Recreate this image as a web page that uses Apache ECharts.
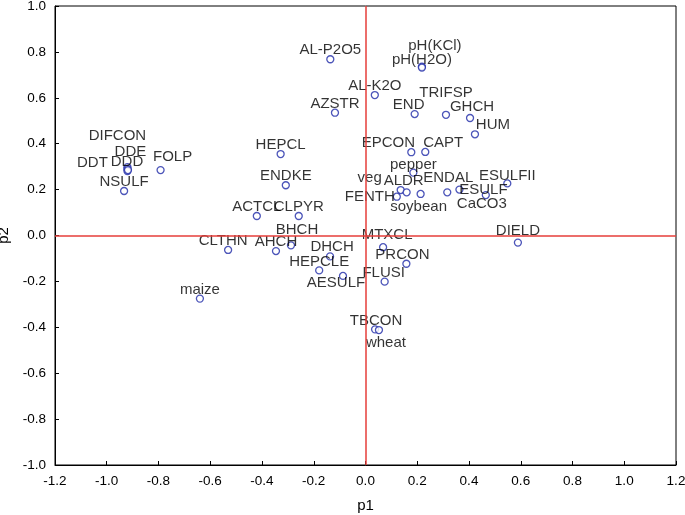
<!DOCTYPE html>
<html>
<head>
<meta charset="utf-8">
<script src="https://cdn.jsdelivr.net/npm/echarts@6/dist/echarts.min.js"></script>
<style>html,body{margin:0;padding:0;background:#fff;}#c{width:685px;height:515px;}</style>
</head>
<body>
<div id="c"></div>
<script>
// Variable names
var names = ['DIFCON','DDE','DDT','DDD','NSULF','FOLP','HEPCL','ENDKE','ACTCL','CLPYR','BHCH','AHCH','CLTHN','DHCH','HEPCLE','AESULF','maize','MTXCL','PRCON','FLUSI','TBCON','wheat','DIELD','AL-P2O5','pH(KCl)','pH(H2O)','AL-K2O','AZSTR','END','TRIFSP','GHCH','HUM','EPCON','CAPT','pepper','veg','ALDR','FENTH','soybean','ENDAL','ESULF','ESULFII','CaCO3'];
// p1 coordinates
var p1 = [-0.920,-0.920,-0.920,-0.918,-0.933,-0.792,-0.328,-0.308,-0.420,-0.258,-0.288,-0.346,-0.531,-0.137,-0.179,-0.087,-0.640,0.068,0.158,0.074,0.037,0.052,0.589,-0.136,0.218,0.218,0.036,-0.118,0.190,0.311,0.404,0.423,0.177,0.231,0.185,0.136,0.159,0.121,0.213,0.316,0.363,0.548,0.465];
// p2 coordinates
var p2 = [0.298,0.290,0.281,0.285,0.194,0.285,0.355,0.219,0.085,0.085,-0.043,-0.068,-0.063,-0.091,-0.152,-0.176,-0.275,-0.051,-0.123,-0.201,-0.409,-0.412,-0.031,0.768,0.736,0.732,0.612,0.535,0.529,0.526,0.512,0.441,0.363,0.364,0.274,0.198,0.188,0.169,0.181,0.188,0.200,0.227,0.176];
// tick labels
var xTicks = ['-1.2','-1.0','-0.8','-0.6','-0.4','-0.2','0.0','0.2','0.4','0.6','0.8','1.0','1.2'];
var yTicks = ['-1.0','-0.8','-0.6','-0.4','-0.2','0.0','0.2','0.4','0.6','0.8','1.0'];

// label placement (pixel offsets of label centre from marker)
var labelOffsets = [[-10,-31],[3,-17],[-35,-8],[-1,-8],[0,-9],[12,-13],[0,-9],[0,-9],[0,-9],[0,-9],[6,-16],[0,-9],[-5,-9],[2,-10],[0,-9],[-7,7],[0,-9],[4,-12],[-4,-9],[-1,-9],[1,-9],[7,13],[0,-12],[0,-9],[13,-21],[0,-8],[0,-9],[0,-9],[-6,-9],[0,-22],[2,-11],[18,-9],[-23,-9],[18,-9],[0,-8],[-31,-12],[-3,-11],[-27,0],[-2,13],[1,-14],[24,0],[0,-8],[-4,9]];

var data = names.map(function(n, i){
  return {
    name: n,
    value: [p1[i], p2[i]],
    label: { offset: labelOffsets[i] }
  };
});

var chart = echarts.init(document.getElementById('c'), null, {renderer:'canvas'});
var font = '"Liberation Sans", Arial, sans-serif';
var red = 'rgb(230,62,58)';
chart.setOption({
  animation: false,
  backgroundColor: '#fff',
  grid: { left: 55, right: 9, top: 6, bottom: 50, show: true, borderColor: '#000', borderWidth: 1, outerBoundsMode: 'none' },
  xAxis: {
    type: 'value', min: -1.2, max: 1.2, interval: 0.2, position: 'bottom',
    name: 'p1', nameLocation: 'middle', nameGap: 33,
    nameTextStyle: { fontFamily: font, fontSize: 15, color: '#000' },
    axisLine: { show: true, onZero: false, lineStyle: { color: '#000', width: 1 } },
    axisTick: { show: true, inside: true, length: 4, lineStyle: { color: '#000' } },
    splitLine: { show: false },
    axisLabel: { fontFamily: font, fontSize: 13.5, color: '#000', margin: 9,
      formatter: function(v){ var i = Math.round((v + 1.2) / 0.2); return xTicks[i]; } }
  },
  yAxis: {
    type: 'value', min: -1.0, max: 1.0, interval: 0.2, position: 'left',
    name: 'p2', nameLocation: 'middle', nameGap: 31, nameRotate: 90,
    nameTextStyle: { fontFamily: font, fontSize: 15, color: '#000' },
    axisLine: { show: true, onZero: false, lineStyle: { color: '#000', width: 1 } },
    axisTick: { show: true, inside: true, length: 4, lineStyle: { color: '#000' } },
    splitLine: { show: false },
    axisLabel: { fontFamily: font, fontSize: 13.5, color: '#000', margin: 9,
      formatter: function(v){ var i = Math.round((v + 1.0) / 0.2); return yTicks[i]; } }
  },
  series: [{
    type: 'scatter',
    symbol: 'circle',
    symbolSize: 7,
    itemStyle: { color: '#fff', borderColor: '#1f2aa8', borderWidth: 1.3 },
    label: {
      show: true, position: 'inside', formatter: '{b}',
      fontFamily: font, fontSize: 15, color: '#000',
      align: 'center', verticalAlign: 'middle'
    },
    emphasis: { disabled: true },
    data: data,
    markLine: {
      silent: true, symbol: ['none', 'none'], animation: false,
      label: { show: false },
      lineStyle: { color: red, width: 1.5, type: 'solid', opacity: 1 },
      data: [{ xAxis: 0 }, { yAxis: 0 }]
    },
    z: 3
  }]
});
</script>
</body>
</html>
